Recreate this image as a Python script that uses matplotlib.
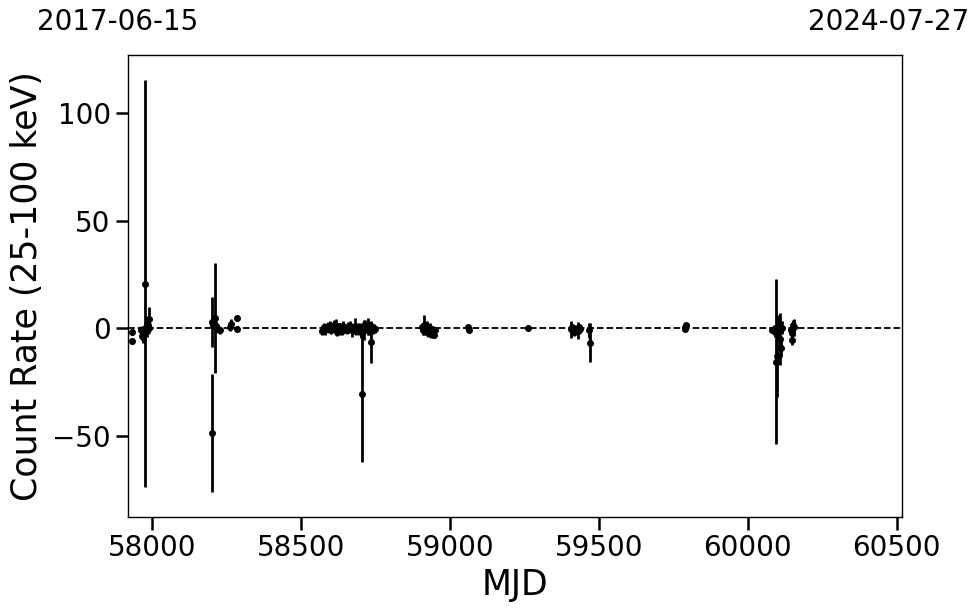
import matplotlib
matplotlib.use("Agg")
import matplotlib.pyplot as plt
import numpy as np

# ---- data ----
mjd_c1 = [57931, 57932, 57963, 57966, 57969, 57972, 57976, 57978, 57980, 57983, 57985, 57988, 57990]
rate_c1 = [-1.5, -5.8, -1.0, -3.5, -4.2, -2.0, 20.8, -0.5, 0.8, -1.0, 1.5, 0.0, 4.5]
err_c1 = [1.5, 1.5, 2.0, 2.0, 2.5, 2.0, 94.3, 3.0, 2.5, 3.0, 4.0, 2.0, 5.6]

mjd_c2 = [58200, 58201, 58204, 58211, 58215, 58220, 58228, 58262, 58266, 58284, 58286]
rate_c2 = [2.9, -48.6, 1.5, 4.8, 1.3, -0.5, -1.0, 0.8, 2.0, -0.2, 4.9]
err_c2 = [11.5, 27.3, 2.0, 25.6, 2.0, 1.5, 1.5, 2.0, 2.5, 1.5, 1.5]

mjd_c3 = [58572, 58576, 58580, 58585, 58590, 58594, 58598, 58602, 58606, 58610,
          58614, 58618, 58622, 58626, 58630, 58634, 58638, 58642, 58646, 58650,
          58654, 58658, 58662, 58666, 58670, 58674, 58678, 58682, 58686, 58690,
          58694, 58698, 58702, 58705, 58708, 58712, 58716, 58720, 58724, 58728,
          58732, 58735, 58738, 58742, 58746, 58750]
rate_c3 = [-1.2, 0.5, -0.8, 0.3, 1.0, -0.5, 0.8, -1.0, 0.2, 1.5,
           -0.3, 0.6, -1.5, 0.9, -0.6, 0.4, -1.2, 1.1, -0.4, 0.2,
           -1.0, 0.7, -0.2, 1.3, -0.8, 0.5, -0.3, 1.0, -0.9, 0.6,
           -0.5, 0.3, -1.4, -30.6, 0.8, -0.7, 1.2, -0.2, 0.9, -1.1,
           0.4, -6.3, 0.6, -0.8, 0.3, -0.5]
err_c3 = [2.0, 1.8, 2.2, 1.5, 2.0, 1.7, 2.5, 1.8, 2.0, 2.2,
          1.6, 3.5, 2.0, 1.8, 2.4, 1.5, 1.9, 2.1, 1.7, 2.0,
          1.6, 2.3, 1.8, 2.0, 3.0, 1.7, 2.2, 3.6, 2.0, 1.8,
          2.5, 2.0, 3.2, 31.6, 2.0, 4.5, 2.5, 2.0, 3.8, 2.2,
          1.8, 9.6, 2.0, 1.9, 1.6, 1.5]

mjd_c4 = [58905, 58910, 58914, 58918, 58922, 58926, 58930, 58934, 58938, 58942, 58946, 58950,
          59060, 59063, 59263]
rate_c4 = [0.5, -1.0, 1.5, -0.5, 0.8, -2.0, -1.2, 0.3, -2.5, -1.0, -3.0, -0.8,
           0.5, -1.0, 0.0]
err_c4 = [1.5, 2.0, 4.5, 2.0, 2.5, 2.0, 1.8, 2.2, 1.8, 2.0, 1.5, 1.5,
          1.0, 1.0, 0.8]

mjd_c5 = [59405, 59410, 59415, 59420, 59425, 59430, 59434, 59438, 59468, 59470,
          59788, 59790, 59792]
rate_c5 = [-0.5, 0.5, -1.5, -0.3, -1.2, -1.1, 0.4, -0.5, -0.9, -6.6,
           -0.3, 0.6, 1.5]
err_c5 = [3.9, 1.5, 2.0, 1.8, 2.0, 4.0, 1.5, 1.8, 3.4, 9.1,
          1.0, 1.2, 1.0]

mjd_c6 = [60083, 60087, 60090, 60094, 60097, 60100, 60103, 60106, 60110, 60111, 60114,
          60146, 60148, 60150, 60152, 60155]
rate_c6 = [-0.9, -0.3, -1.5, -15.6, -13.0, -1.0, 0.5, -0.5, -4.8, -9.1, 0.2,
           -0.8, -5.6, -2.0, 1.4, 0.5]
err_c6 = [1.5, 2.0, 2.5, 38.3, 19.0, 3.0, 5.0, 2.0, 12.0, 4.0, 3.0,
          2.0, 2.0, 3.0, 2.5, 4.0]

mjd = mjd_c1 + mjd_c2 + mjd_c3 + mjd_c4 + mjd_c5 + mjd_c6
rate = rate_c1 + rate_c2 + rate_c3 + rate_c4 + rate_c5 + rate_c6
err = err_c1 + err_c2 + err_c3 + err_c4 + err_c5 + err_c6

xlim = (57919, 60518)
ylim = (-87.6, 126.9)
date_start = "2017-06-15"
date_end = "2024-07-27"

# ---- figure ----
fig = plt.figure(figsize=(9.8, 6.13), dpi=100)
ax = fig.add_axes([128 / 980, 1 - 517 / 613, (902 - 128) / 980, (517 - 55) / 613])

ax.errorbar(mjd, rate, yerr=err, fmt='o', color='black', ecolor='black',
            markersize=4, elinewidth=2, capsize=0)
ax.axhline(0, color='black', linestyle='--', linewidth=1.3)

ax.set_xlim(*xlim)
ax.set_ylim(*ylim)
ax.set_xticks([58000, 58500, 59000, 59500, 60000, 60500])
ax.set_yticks([-50, 0, 50, 100])
ax.tick_params(axis='both', which='major', labelsize=20, length=9, width=1.8)
for s in ax.spines.values():
    s.set_linewidth(1.0)

ax.set_xlabel("MJD", fontsize=25, labelpad=4)
ax.set_ylabel("Count Rate (25-100 keV)", fontsize=25, labelpad=6)

fig.text(118 / 980, 1 - 22 / 613, date_start, fontsize=20, ha='center', va='center')
fig.text(889 / 980, 1 - 22 / 613, date_end, fontsize=20, ha='center', va='center')

fig.savefig("out.png", dpi=100)
